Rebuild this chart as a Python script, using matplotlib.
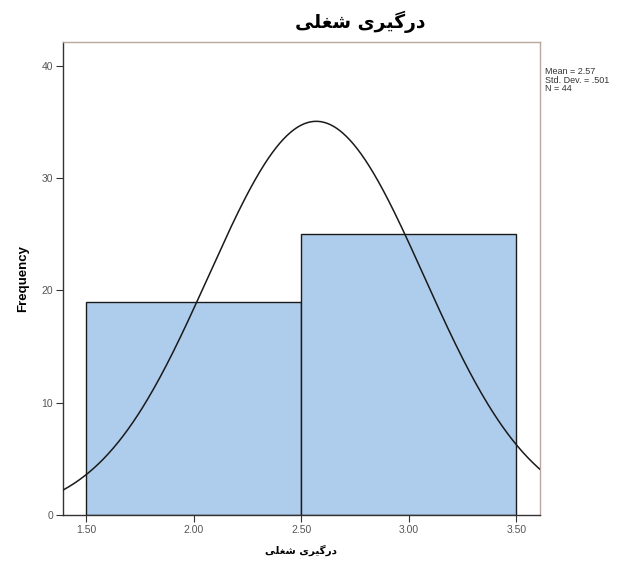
import numpy as np
import matplotlib
matplotlib.use("Agg")
import matplotlib.pyplot as plt

# histogram of job involvement scores
bin_edges = [1.5, 2.5, 3.5]
counts = [19, 25]
x_ticks = [1.5, 2.0, 2.5, 3.0, 3.5]
x_tick_labels = ["1.50", "2.00", "2.50", "3.00", "3.50"]
y_ticks = [0, 10, 20, 30, 40]

mean = 2.57
std_dev = 0.501
n_cases = 44

# "درگیری شغلی" written in presentation forms, visual order (no shaping engine in mpl)
title_text = "\uFBFD\uFEE0\uFED0\uFEB7 \uFBFC\uFEAE\uFBFF\uFB94\uFEAD\uFEA9"

plt.rcParams['font.family'] = ['Liberation Sans', 'DejaVu Sans']

fig = plt.figure(figsize=(6.35, 5.67), dpi=100)
ax = fig.add_axes([0.0992, 0.0917, 0.7512, 0.8343])

widths = np.diff(bin_edges)
ax.bar(bin_edges[:-1], counts, width=widths, align='edge',
       color='#AECDEC', edgecolor='#1a1a1a', linewidth=1.0, zorder=2)

# normal curve scaled to counts
xs = np.linspace(1.35, 3.65, 400)
bw = widths[0]
ys = n_cases * bw / (std_dev * np.sqrt(2 * np.pi)) * np.exp(-0.5 * ((xs - mean) / std_dev) ** 2)
ax.plot(xs, ys, color='#1a1a1a', linewidth=1.1, zorder=3)

ax.set_xlim(1.393, 3.61)
ax.set_ylim(0, 42.1)
ax.set_xticks(x_ticks)
ax.set_xticklabels(x_tick_labels)
ax.set_yticks(y_ticks)
ax.tick_params(axis='both', direction='out', length=5, width=0.8,
               labelsize=7.5, labelcolor='#555555', color='#333333', pad=2)

for side in ['top', 'right']:
    ax.spines[side].set_color('#b8a8a0')
    ax.spines[side].set_linewidth(1.0)
for side in ['left', 'bottom']:
    ax.spines[side].set_color('#333333')
    ax.spines[side].set_linewidth(1.0)

ax.set_ylabel("Frequency", fontsize=9.5, fontweight='bold', labelpad=9)
ax.set_xlabel(title_text, family=['DejaVu Sans'], fontsize=7.5, fontweight='bold', labelpad=7)
fig.text(0.567, 0.962, title_text, family=['DejaVu Sans'], fontsize=13.5,
         fontweight='bold', ha='center', va='center')

fig.text(0.859, 0.882, f"Mean = {mean:.2f}\nStd. Dev. = .{int(round(std_dev * 1000))}\nN = {n_cases}",
         fontsize=6.5, color='#333333', ha='left', va='top', linespacing=0.95)

fig.savefig("out.png", dpi=100)
